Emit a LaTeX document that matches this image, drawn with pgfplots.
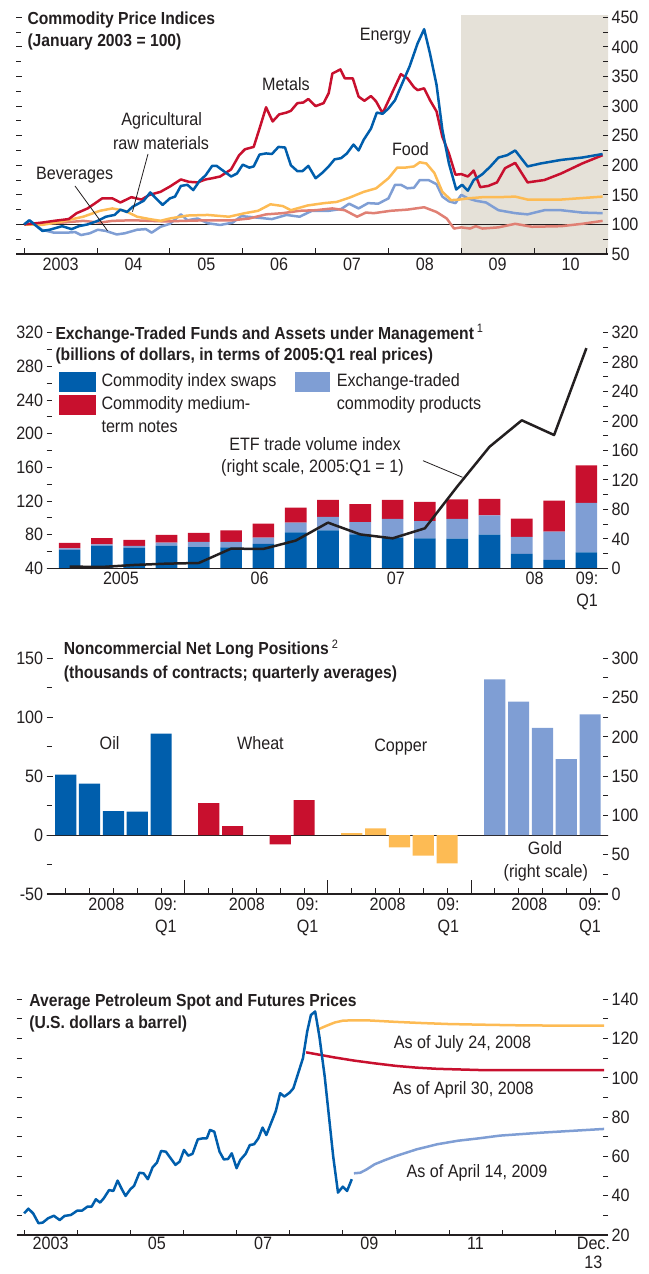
\documentclass[border=0pt]{standalone}
\usepackage{fontspec}
\setmainfont{Liberation Sans}[FakeStretch=0.9]
\usepackage{pgfplots}
\pgfplotsset{compat=1.18}

\definecolor{cblue}{RGB}{0,94,172}
\definecolor{cred}{RGB}{200,16,46}
\definecolor{clight}{RGB}{127,158,212}
\definecolor{cyellow}{RGB}{253,187,84}
\definecolor{csalmon}{RGB}{224,128,116}
\definecolor{cshade}{RGB}{229,225,216}
\definecolor{ctext}{RGB}{35,31,32}

\newcommand\fs{\fontsize{18}{22.5}\selectfont}
\newcommand\tfs{\fontsize{17.5}{22}\selectfont\bfseries}

\pgfplotsset{
  base/.style={scale only axis, axis on top, anchor=south west,
    /pgf/number format/assume math mode=true,
    tick label style={font=\fs, text=ctext},
    tick style={ctext, line width=0.9bp},
    major tick length=5bp, minor tick length=5bp,
    tick align=inside,
    axis line style={ctext, line width=1.1bp}},
  leftax/.style={base, axis x line*=bottom, axis y line*=left,
    y axis line style={draw=none}, yticklabels={}},
  rightax/.style={base, axis y line*=right, y axis line style={draw=none},
    axis x line*=bottom, x axis line style={draw=none}, xtick style={draw=none}},
  ln/.style={line width=2.5bp, line join=round},
}

\begin{document}
\begin{tikzpicture}[font=\fs, every node/.style={text=ctext}]
\path[use as bounding box] (0,0) rectangle (649bp,1274bp);

% ---------- panel 1: commodity price indices
\begin{axis}[leftax, at={(16bp,1020bp)}, width=592bp, height=239bp,
  xmin=2002.887, xmax=2011.014, ymin=50, ymax=454,
  ytick={50,100,...,450}, minor y tick num=1,
  xtick={2003,...,2011}, xticklabels={2003,04,05,06,07,08,09,10},
  x tick label as interval, major tick length=6bp]
\addplot[draw=none, fill=cshade] coordinates {(2009,454) (2011.1,454)} \closedcycle;
\addplot[ctext, line width=0.9bp] coordinates {(2002.8,100) (2011.1,100)};
\addplot[ln, clight] coordinates {(2003.0,100) (2003.07,107) (2003.15,100) (2003.24,91) (2003.41,86) (2003.58,86) (2003.7,87) (2003.78,82) (2003.9,85) (2004.01,91) (2004.12,89) (2004.27,83) (2004.38,85) (2004.55,91) (2004.67,92) (2004.75,86) (2004.87,96) (2005.0,101) (2005.15,117) (2005.24,107) (2005.38,110) (2005.52,102) (2005.69,99) (2005.86,103) (2005.98,114) (2006.15,112) (2006.4,109) (2006.6,116) (2006.78,113) (2006.95,123) (2007.18,123) (2007.35,126) (2007.46,135) (2007.59,127) (2007.72,136) (2007.86,135) (2008.0,144) (2008.09,167) (2008.17,167) (2008.26,161) (2008.35,162) (2008.43,175) (2008.55,175) (2008.66,168) (2008.74,147) (2008.83,139) (2008.92,136) (2009.0,150) (2009.09,144) (2009.2,140) (2009.34,137) (2009.51,124) (2009.74,119) (2009.91,117) (2010.14,124) (2010.37,124) (2010.66,120) (2010.94,119)};
\addplot[ln, csalmon] coordinates {(2003.0,100) (2003.24,101) (2003.52,103) (2003.81,106) (2004.04,103) (2004.21,106) (2004.49,107) (2004.72,106) (2004.95,105) (2005.18,106) (2005.52,107) (2005.86,107) (2006.09,110) (2006.32,117) (2006.55,119) (2006.78,123) (2007.0,124) (2007.23,127) (2007.4,124) (2007.57,113) (2007.69,120) (2007.8,119) (2008.03,123) (2008.26,125) (2008.49,129) (2008.66,121) (2008.8,110) (2008.9,93) (2009.0,95) (2009.12,93) (2009.2,97) (2009.29,93) (2009.51,95) (2009.74,101) (2009.97,96) (2010.37,97) (2010.66,101) (2010.94,106)};
\addplot[ln, cyellow] coordinates {(2003.0,100) (2003.24,99) (2003.52,105) (2003.81,113) (2004.04,123) (2004.21,127) (2004.38,123) (2004.55,113) (2004.72,109) (2004.87,106) (2005.0,110) (2005.24,115) (2005.52,116) (2005.81,113) (2006.03,119) (2006.21,123) (2006.38,134) (2006.55,131) (2006.66,124) (2006.89,132) (2007.12,136) (2007.29,138) (2007.46,145) (2007.66,155) (2007.83,161) (2008.0,178) (2008.12,196) (2008.23,196) (2008.35,198) (2008.43,205) (2008.52,203) (2008.63,187) (2008.74,155) (2008.86,141) (2008.97,142) (2009.09,144) (2009.29,146) (2009.51,146) (2009.74,147) (2009.91,142) (2010.37,142) (2010.94,147)};
\addplot[ln, cred] coordinates {(2003.0,100) (2003.24,103) (2003.41,106) (2003.61,109) (2003.72,119) (2003.87,127) (2004.07,144) (2004.21,144) (2004.32,137) (2004.47,146) (2004.61,142) (2004.72,150) (2004.87,155) (2005.0,164) (2005.15,176) (2005.26,172) (2005.38,171) (2005.49,176) (2005.58,178) (2005.69,181) (2005.84,193) (2005.95,217) (2006.03,227) (2006.15,231) (2006.23,262) (2006.32,298) (2006.41,274) (2006.5,286) (2006.6,289) (2006.66,292) (2006.75,305) (2006.83,306) (2006.9,312) (2007.0,300) (2007.11,305) (2007.18,322) (2007.23,355) (2007.34,362) (2007.4,347) (2007.51,347) (2007.59,316) (2007.67,309) (2007.76,317) (2007.83,308) (2007.92,288) (2008.0,309) (2008.09,333) (2008.17,354) (2008.26,347) (2008.35,332) (2008.4,327) (2008.49,330) (2008.57,310) (2008.66,291) (2008.74,248) (2008.83,220) (2008.92,184) (2009.0,185) (2009.09,181) (2009.17,191) (2009.26,163) (2009.37,165) (2009.49,171) (2009.6,195) (2009.74,204) (2009.91,171) (2010.14,175) (2010.37,186) (2010.66,203) (2010.94,217)};
\addplot[ln, cblue] coordinates {(2003.0,100) (2003.07,107) (2003.17,97) (2003.25,89) (2003.35,91) (2003.52,97) (2003.65,92) (2003.75,97) (2003.87,100) (2004.01,106) (2004.12,113) (2004.24,116) (2004.32,125) (2004.41,121) (2004.49,130) (2004.64,140) (2004.73,154) (2004.81,144) (2004.9,133) (2005.0,144) (2005.07,147) (2005.15,165) (2005.24,167) (2005.32,158) (2005.41,174) (2005.49,183) (2005.58,199) (2005.64,199) (2005.75,189) (2005.84,181) (2005.92,186) (2006.0,201) (2006.09,196) (2006.15,198) (2006.23,218) (2006.32,220) (2006.4,219) (2006.49,231) (2006.58,230) (2006.66,200) (2006.75,190) (2006.82,190) (2006.9,199) (2007.0,178) (2007.09,187) (2007.18,198) (2007.26,210) (2007.35,212) (2007.43,220) (2007.52,235) (2007.59,225) (2007.66,243) (2007.76,262) (2007.84,289) (2007.92,287) (2008.0,296) (2008.09,310) (2008.17,333) (2008.29,367) (2008.4,406) (2008.49,430) (2008.57,389) (2008.66,336) (2008.74,260) (2008.83,203) (2008.93,159) (2009.01,167) (2009.09,157) (2009.17,175) (2009.29,185) (2009.4,198) (2009.51,213) (2009.63,217) (2009.74,225) (2009.91,198) (2010.09,203) (2010.37,209) (2010.66,213) (2010.94,219)};
\end{axis}
\begin{axis}[rightax, hide x axis, at={(16bp,1020bp)}, width=592bp, height=239bp,
  xmin=2002.887, xmax=2011.014, ymin=50, ymax=454,
  ytick={50,100,...,450}, minor y tick num=1]
\addplot[draw=none] coordinates {(2005,100)};
\end{axis}
\node[anchor=base west, font=\tfs] at (24bp,1249.6bp) {Commodity Price Indices};
\node[anchor=base west, font=\tfs] at (24bp,1227.6bp) {(January 2003 = 100)};
\node[anchor=base] at (385.4bp,1233bp) {Energy};
\node[anchor=base] at (286bp,1183bp) {Metals};
\node[anchor=base] at (161.7bp,1148bp) {Agricultural};
\node[anchor=base] at (161bp,1124.7bp) {raw materials};
\node[anchor=base] at (410.4bp,1118bp) {Food};
\node[anchor=base] at (74.6bp,1094.7bp) {Beverages};
\draw[ctext, line width=0.8bp] (75bp,1088bp) -- (107.5bp,1043.3bp);
\draw[ctext, line width=0.8bp] (148bp,1120bp) -- (132.5bp,1062.3bp);

% ---------- panel 2: exchange-traded funds
\begin{axis}[leftax, at={(46.7bp,705.7bp)}, width=561.3bp, height=235.6bp,
  xmin=-0.709, xmax=16.669, ymin=40, ymax=320,
  ytick={40,80,...,320}, yticklabels={40,80,120,160,200,240,280,320},
  minor y tick num=1, xtick style={draw=none},
  xtick={1.59,5.88,10.1,14.4,16.02}, xticklabels={2005,06,07,08,{09:\\Q1}},
  xticklabel style={align=center},
  ybar stacked, bar width=0.67]
\addplot[fill=cblue, draw=none] coordinates {(0,61.8) (1,66.9) (2,64.6) (3,66.9) (4,65.3) (5,65.0) (6,68.9) (7,82.8) (8,85.1) (9,80.4) (10,76.4) (11,75.6) (12,75.2) (13,80.0) (14,57.0) (15,49.9) (16,59.0)};
\addplot[fill=clight, draw=none] coordinates {(0,2.0) (1,1.6) (2,1.9) (3,3.6) (4,6.0) (5,6.3) (6,7.5) (7,11.5) (8,15.9) (9,14.6) (10,22.2) (11,20.6) (12,23.4) (13,23.0) (14,20.2) (15,33.7) (16,58.6)};
\addplot[fill=cred, draw=none] coordinates {(0,6.3) (1,7.5) (2,7.2) (3,9.1) (4,10.7) (5,13.8) (6,16.7) (7,17.8) (8,20.2) (9,21.4) (10,22.6) (11,22.6) (12,23.4) (13,19.4) (14,21.8) (15,36.8) (16,44.8)};
\end{axis}
\begin{axis}[rightax, hide x axis, at={(46.7bp,705.7bp)}, width=561.3bp, height=235.6bp,
  xmin=-0.709, xmax=16.669, ymin=0, ymax=320,
  ytick={0,40,...,320}, minor y tick num=1]
\addplot[ln, ctext] coordinates {(0,2.3) (1,1.8) (2,4.5) (3,6.3) (4,7.2) (5,26.7) (6,26.3) (7,37.6) (8,62) (9,46) (10,40.7) (11,54.3) (12,111) (13,165) (14,201) (15,181) (16,299)};
\end{axis}
\node[anchor=base west, font=\tfs] at (52bp,934.9bp) {Exchange-Traded Funds and Assets under Management\,\textsuperscript{\mdseries 1}};
\node[anchor=base west, font=\tfs] at (52bp,913.3bp) {(billions of dollars, in terms of 2005:Q1 real prices)};
\fill[cblue] (59.2bp,882.3bp) rectangle (95.8bp,902.3bp);
\fill[cred] (59.2bp,859bp) rectangle (95.8bp,879bp);
\fill[clight] (294.6bp,882.3bp) rectangle (330.4bp,902.3bp);
\node[anchor=base west] at (98bp,887bp) {Commodity index swaps};
\node[anchor=base west] at (98bp,864bp) {Commodity medium-};
\node[anchor=base west] at (98bp,841bp) {term notes};
\node[anchor=base west] at (333.3bp,887bp) {Exchange-traded};
\node[anchor=base west] at (333.3bp,864bp) {commodity products};
\node[anchor=base] at (315bp,823.7bp) {ETF trade volume index};
\node[anchor=base] at (312.5bp,801.3bp) {(right scale, 2005:Q1 = 1)};
\draw[ctext, line width=0.8bp] (423bp,813.3bp) -- (462.5bp,796.7bp);

% ---------- panel 3: noncommercial net long positions
\begin{axis}[leftax, at={(46.7bp,380bp)}, width=561.3bp, height=235.7bp,
  xmin=-0.8, xmax=22.75, ymin=-50, ymax=150,
  ytick={-50,0,...,150}, yticklabels={-50,0,50,100,150},
  minor y tick num=1, major tick length=6bp,
  xtick={0,1,2,3,4,6,7,8,9,10,12,13,14,15,16,18,19,20,21,22}, xticklabels={},
  extra x ticks={5,11,17}, extra x tick labels={},
  extra x tick style={major tick length=14bp}]
\addplot[ctext, line width=1.1bp] coordinates {(-1,0) (23,0)};
\addplot[ybar, bar shift=0pt, bar width=0.89, fill=cblue, draw=none] coordinates {(0,51.2) (1,43.6) (2,20.4) (3,19.8) (4,86)};
\addplot[ybar, bar shift=0pt, bar width=0.89, fill=cred, draw=none] coordinates {(6,27.2) (7,7.6) (9,-7.9) (10,29.7)};
\addplot[ybar, bar shift=0pt, bar width=0.89, fill=cyellow, draw=none] coordinates {(12,1.7) (13,5.7) (14,-10.5) (15,-17.5) (16,-24)};
% gold is on the right scale (0..300 maps onto -50..150)
\addplot[ybar, bar shift=0pt, bar width=0.89, fill=clight, draw=none,
  y filter/.expression={y/1.5-50}] coordinates {(18,273.2) (19,244.8) (20,211.3) (21,171.8) (22,228.7)};
\end{axis}
\begin{axis}[rightax, at={(46.7bp,380bp)}, width=561.3bp, height=235.7bp,
  xmin=-0.8, xmax=22.75, ymin=0, ymax=300,
  ytick={0,50,...,300}, minor y tick num=1,
  xtick={1.7,4.2,7.6,10.15,13.5,16.05,19.45,22},
  xticklabels={2008,{09:\\Q1},2008,{09:\\Q1},2008,{09:\\Q1},2008,{09:\\Q1}},
  xticklabel style={align=center}]
\addplot[draw=none] coordinates {(5,100)};
\end{axis}
\node[anchor=base west, font=\tfs] at (60.4bp,619.3bp) {Noncommercial Net Long Positions\,\textsuperscript{\mdseries 2}};
\node[anchor=base west, font=\tfs] at (60.4bp,595.9bp) {(thousands of contracts; quarterly averages)};
\node[anchor=base] at (109.6bp,524.7bp) {Oil};
\node[anchor=base] at (260.4bp,524.7bp) {Wheat};
\node[anchor=base] at (400.8bp,522bp) {Copper};
\node[anchor=base] at (545bp,419bp) {Gold};
\node[anchor=base] at (545.8bp,396.3bp) {(right scale)};

% ---------- panel 4: petroleum spot and futures
\begin{axis}[leftax, at={(16.7bp,39bp)}, width=591.3bp, height=235.7bp,
  xmin=2002.86, xmax=2013.994, ymin=20, ymax=140,
  ytick={20,30,...,140}, xtick={2003,...,2013}, xticklabels={}]
\addplot[ln, cyellow] coordinates {(2008.545,124.8) (2008.7,126.6) (2008.85,128.2) (2009.0,129.1) (2009.17,129.3) (2009.45,129.3) (2010.0,128.5) (2010.5,127.9) (2011.0,127.4) (2011.56,127.1) (2012.2,126.8) (2013.0,126.6) (2013.92,126.6)};
\addplot[ln, cred] coordinates {(2008.31,113.0) (2008.82,110.5) (2009.21,108.8) (2009.6,107.4) (2010.0,106.1) (2010.39,105.2) (2010.78,104.6) (2011.56,104.0) (2012.74,104.0) (2013.92,103.9)};
\addplot[ln, clight] coordinates {(2009.21,51.4) (2009.33,51.7) (2009.45,53.4) (2009.6,56.0) (2009.8,58.2) (2010.0,60.2) (2010.39,63.6) (2010.78,66.2) (2011.17,68.0) (2011.56,69.2) (2011.96,70.6) (2012.74,72.1) (2013.92,74.0)};
\addplot[ln, cblue] coordinates {(2003.0,31) (2003.08,33.4) (2003.17,31) (2003.27,26) (2003.35,26.3) (2003.45,28.5) (2003.56,29.8) (2003.67,27.6) (2003.76,29.7) (2003.88,30.2) (2004.0,32.4) (2004.09,32.4) (2004.19,34.4) (2004.27,34.4) (2004.35,38.2) (2004.43,36.5) (2004.5,38.7) (2004.6,42.9) (2004.68,42.4) (2004.76,47.7) (2004.84,43.3) (2004.91,39.9) (2005.0,43.3) (2005.07,45) (2005.17,51.7) (2005.25,51.4) (2005.33,48.4) (2005.42,54.5) (2005.5,56.8) (2005.58,62.8) (2005.67,62.4) (2005.76,59) (2005.85,55.7) (2005.93,57.4) (2006.01,63.3) (2006.09,60.4) (2006.17,61.3) (2006.27,68.7) (2006.36,69.2) (2006.44,69.2) (2006.5,73.5) (2006.58,72.6) (2006.68,62.4) (2006.76,58.5) (2006.84,58.7) (2006.91,61.6) (2007.0,54) (2007.07,58.2) (2007.17,61.3) (2007.25,65.8) (2007.33,66.2) (2007.41,69.2) (2007.49,74.7) (2007.56,70.9) (2007.66,77.7) (2007.74,83.2) (2007.82,92.2) (2007.9,90.5) (2008.0,92.5) (2008.07,94.7) (2008.15,101.5) (2008.25,110) (2008.33,123.6) (2008.4,132) (2008.48,133.8) (2008.56,121) (2008.66,100.6) (2008.76,75.2) (2008.82,59.9) (2008.91,41.6) (2009.0,44.6) (2009.08,42.4) (2009.17,48.4)};
\end{axis}
\begin{axis}[rightax, at={(16.7bp,39bp)}, width=591.3bp, height=235.7bp,
  xmin=2002.86, xmax=2013.994, ymin=20, ymax=140,
  ytick={20,40,...,140}, minor y tick num=1,
  xtick={2003.5,2005.5,2007.5,2009.5,2011.5,2013.72},
  xticklabels={2003,05,07,09,11,{Dec.\\[-3bp]13}},
  xticklabel style={align=center, inner sep=2bp}]
\addplot[draw=none] coordinates {(2005,50)};
\end{axis}
\node[anchor=base west, font=\tfs] at (25.8bp,267.6bp) {Average Petroleum Spot and Futures Prices};
\node[anchor=base west, font=\tfs] at (25.8bp,245.9bp) {(U.S. dollars a barrel)};
\node[anchor=base] at (462.5bp,225.3bp) {As of July 24, 2008};
\node[anchor=base] at (463.3bp,179bp) {As of April 30, 2008};
\node[anchor=base] at (477bp,96.3bp) {As of April 14, 2009};
\end{tikzpicture}
\end{document}
